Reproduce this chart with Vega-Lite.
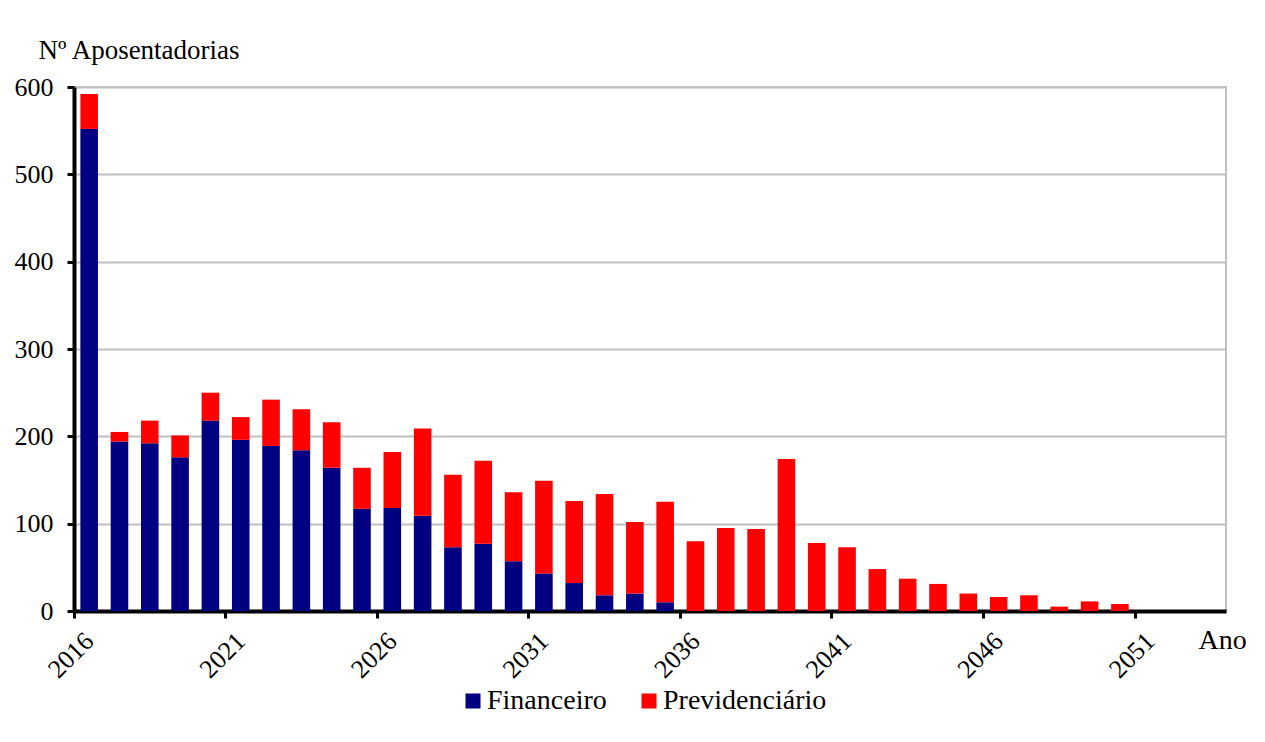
{
  "$schema": "https://vega.github.io/schema/vega-lite/v6.json",
  "width": 1152,
  "height": 524,
  "autosize": {"type": "none"},
  "padding": {"left": 74, "top": 87, "right": 39, "bottom": 131},
  "background": "white",
  "config": {
    "font": "Liberation Serif",
    "view": {"stroke": "#c0c0c0", "strokeWidth": 2},
    "axis": {"labelFont": "Liberation Serif", "titleFont": "Liberation Serif", "labelColor": "black", "titleColor": "black", "titleFontWeight": "normal"},
    "legend": {"labelFont": "Liberation Serif"}
  },
  "data": {
    "values": [
      {"ano": 2016, "tipo": "Financeiro", "valor": 552}, {"ano": 2016, "tipo": "Previdenciário", "valor": 40},
      {"ano": 2017, "tipo": "Financeiro", "valor": 194}, {"ano": 2017, "tipo": "Previdenciário", "valor": 11},
      {"ano": 2018, "tipo": "Financeiro", "valor": 192}, {"ano": 2018, "tipo": "Previdenciário", "valor": 26},
      {"ano": 2019, "tipo": "Financeiro", "valor": 176}, {"ano": 2019, "tipo": "Previdenciário", "valor": 25},
      {"ano": 2020, "tipo": "Financeiro", "valor": 218}, {"ano": 2020, "tipo": "Previdenciário", "valor": 32},
      {"ano": 2021, "tipo": "Financeiro", "valor": 196}, {"ano": 2021, "tipo": "Previdenciário", "valor": 26},
      {"ano": 2022, "tipo": "Financeiro", "valor": 189}, {"ano": 2022, "tipo": "Previdenciário", "valor": 53},
      {"ano": 2023, "tipo": "Financeiro", "valor": 184}, {"ano": 2023, "tipo": "Previdenciário", "valor": 47},
      {"ano": 2024, "tipo": "Financeiro", "valor": 164}, {"ano": 2024, "tipo": "Previdenciário", "valor": 52},
      {"ano": 2025, "tipo": "Financeiro", "valor": 117}, {"ano": 2025, "tipo": "Previdenciário", "valor": 47},
      {"ano": 2026, "tipo": "Financeiro", "valor": 118}, {"ano": 2026, "tipo": "Previdenciário", "valor": 64},
      {"ano": 2027, "tipo": "Financeiro", "valor": 109}, {"ano": 2027, "tipo": "Previdenciário", "valor": 100},
      {"ano": 2028, "tipo": "Financeiro", "valor": 73}, {"ano": 2028, "tipo": "Previdenciário", "valor": 83},
      {"ano": 2029, "tipo": "Financeiro", "valor": 77}, {"ano": 2029, "tipo": "Previdenciário", "valor": 95},
      {"ano": 2030, "tipo": "Financeiro", "valor": 57}, {"ano": 2030, "tipo": "Previdenciário", "valor": 79},
      {"ano": 2031, "tipo": "Financeiro", "valor": 43}, {"ano": 2031, "tipo": "Previdenciário", "valor": 106},
      {"ano": 2032, "tipo": "Financeiro", "valor": 32}, {"ano": 2032, "tipo": "Previdenciário", "valor": 94},
      {"ano": 2033, "tipo": "Financeiro", "valor": 18}, {"ano": 2033, "tipo": "Previdenciário", "valor": 116},
      {"ano": 2034, "tipo": "Financeiro", "valor": 20}, {"ano": 2034, "tipo": "Previdenciário", "valor": 82},
      {"ano": 2035, "tipo": "Financeiro", "valor": 10}, {"ano": 2035, "tipo": "Previdenciário", "valor": 115},
      {"ano": 2036, "tipo": "Financeiro", "valor": 0}, {"ano": 2036, "tipo": "Previdenciário", "valor": 80},
      {"ano": 2037, "tipo": "Financeiro", "valor": 0}, {"ano": 2037, "tipo": "Previdenciário", "valor": 95},
      {"ano": 2038, "tipo": "Financeiro", "valor": 0}, {"ano": 2038, "tipo": "Previdenciário", "valor": 94},
      {"ano": 2039, "tipo": "Financeiro", "valor": 0}, {"ano": 2039, "tipo": "Previdenciário", "valor": 174},
      {"ano": 2040, "tipo": "Financeiro", "valor": 0}, {"ano": 2040, "tipo": "Previdenciário", "valor": 78},
      {"ano": 2041, "tipo": "Financeiro", "valor": 0}, {"ano": 2041, "tipo": "Previdenciário", "valor": 73},
      {"ano": 2042, "tipo": "Financeiro", "valor": 0}, {"ano": 2042, "tipo": "Previdenciário", "valor": 48},
      {"ano": 2043, "tipo": "Financeiro", "valor": 0}, {"ano": 2043, "tipo": "Previdenciário", "valor": 37},
      {"ano": 2044, "tipo": "Financeiro", "valor": 0}, {"ano": 2044, "tipo": "Previdenciário", "valor": 31},
      {"ano": 2045, "tipo": "Financeiro", "valor": 0}, {"ano": 2045, "tipo": "Previdenciário", "valor": 20},
      {"ano": 2046, "tipo": "Financeiro", "valor": 0}, {"ano": 2046, "tipo": "Previdenciário", "valor": 16},
      {"ano": 2047, "tipo": "Financeiro", "valor": 0}, {"ano": 2047, "tipo": "Previdenciário", "valor": 18},
      {"ano": 2048, "tipo": "Financeiro", "valor": 0}, {"ano": 2048, "tipo": "Previdenciário", "valor": 5},
      {"ano": 2049, "tipo": "Financeiro", "valor": 0}, {"ano": 2049, "tipo": "Previdenciário", "valor": 11},
      {"ano": 2050, "tipo": "Financeiro", "valor": 0}, {"ano": 2050, "tipo": "Previdenciário", "valor": 8},
      {"ano": 2051, "tipo": "Financeiro", "valor": 0}, {"ano": 2051, "tipo": "Previdenciário", "valor": 0},
      {"ano": 2052, "tipo": "Financeiro", "valor": 0}, {"ano": 2052, "tipo": "Previdenciário", "valor": 0},
      {"ano": 2053, "tipo": "Financeiro", "valor": 0}, {"ano": 2053, "tipo": "Previdenciário", "valor": 0}
    ]
  },
  "mark": {"type": "bar", "width": {"band": 0.58}},
  "encoding": {
    "x": {
      "field": "ano",
      "type": "ordinal",
      "scale": {"paddingInner": 0, "paddingOuter": 0},
      "axis": {
        "title": "Ano",
        "titleFontSize": 28,
        "titleAngle": 0,
        "titleAlign": "left",
        "titleBaseline": "alphabetic",
        "titleX": 1124,
        "titleY": 37,
        "values": [2016, 2021, 2026, 2031, 2036, 2041, 2046, 2051],
        "bandPosition": 0,
        "labelAngle": -45,
        "labelAlign": "center",
        "labelBaseline": "middle",
        "labelPadding": 37,
        "labelOffset": -18,
        "labelFontSize": 26,
        "labelOverlap": false,
        "labelBound": false,
        "domainColor": "black",
        "domainWidth": 4,
        "tickColor": "black",
        "tickWidth": 3,
        "tickSize": 7,
        "grid": false
      }
    },
    "y": {
      "field": "valor",
      "type": "quantitative",
      "stack": "zero",
      "scale": {"domain": [0, 600]},
      "axis": {
        "title": "Nº Aposentadorias",
        "titleFontSize": 27,
        "titleAngle": 0,
        "titleAlign": "left",
        "titleBaseline": "alphabetic",
        "titleX": -36,
        "titleY": -29,
        "values": [0, 100, 200, 300, 400, 500, 600],
        "labelFontSize": 26,
        "labelPadding": 14,
        "domainColor": "black",
        "domainWidth": 4,
        "tickColor": "black",
        "tickWidth": 3,
        "tickSize": 7,
        "gridColor": "#c0c0c0",
        "gridWidth": 2
      }
    },
    "order": {"field": "tipo", "sort": "ascending"},
    "color": {
      "field": "tipo",
      "type": "nominal",
      "scale": {"domain": ["Financeiro", "Previdenciário"], "range": ["#000080", "#ff0000"]},
      "legend": {
        "title": null,
        "orient": "none",
        "direction": "horizontal",
        "legendX": 385,
        "legendY": 600,
        "symbolType": "square",
        "symbolSize": 225,
        "symbolStrokeWidth": 0,
        "labelFontSize": 28,
        "labelLimit": 500,
        "labelColor": "black",
        "columnPadding": 28,
        "labelOffset": 0
      }
    }
  }
}
